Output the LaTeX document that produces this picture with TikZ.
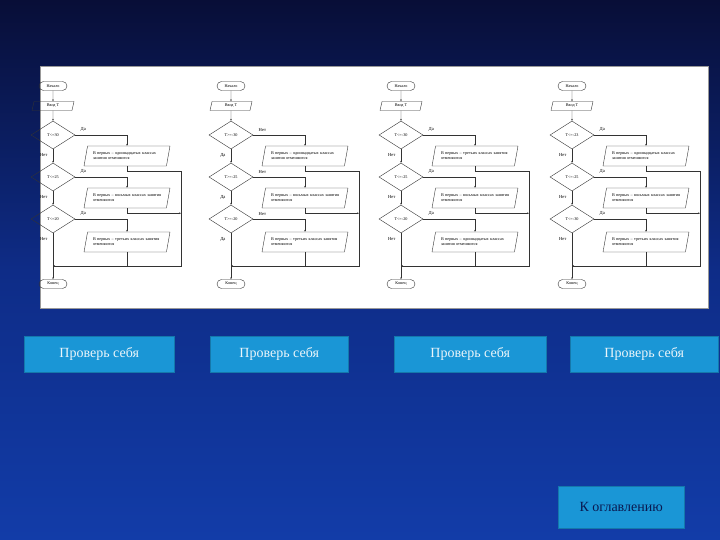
\documentclass[tikz,border=0pt]{standalone}
\usepackage{fontspec}
\setmainfont{Liberation Serif}
\usetikzlibrary{shapes.geometric,shapes.misc,arrows.meta}
\definecolor{btn}{RGB}{26,150,214}
\definecolor{btntxt}{RGB}{235,245,250}
\definecolor{navy}{RGB}{10,25,80}
\tikzset{
 tiny/.style={font=\fontsize{4.2}{5}\selectfont},
 term/.style={rounded rectangle,draw=black!80,line width=0.4pt,minimum width=30pt,minimum height=9pt,inner sep=1pt,tiny},
 io/.style={trapezium,trapezium left angle=70,trapezium right angle=110,draw=black!80,line width=0.4pt,minimum width=42pt,minimum height=9pt,inner sep=1pt,tiny,trapezium stretches body},
 box/.style={trapezium,trapezium left angle=70,trapezium right angle=110,draw=black!80,line width=0.4pt,text width=68pt,minimum width=86pt,minimum height=20pt,inner sep=1pt,tiny,align=left,trapezium stretches body},
 dec/.style={diamond,draw=black!80,line width=0.4pt,minimum width=44pt,minimum height=28pt,aspect=1.6,inner sep=0pt,tiny},
 ln/.style={draw=black!80,line width=0.4pt},
 ar/.style={ln,-{Stealth[length=2pt,width=1.6pt]}},
 lab/.style={font=\fontsize{4.6}{5}\selectfont},
 button/.style={fill=btn,draw=btn!80!black,line width=0.4pt,inner sep=0pt,font=\fontsize{14}{16}\selectfont,text=btntxt}
}
% #1 prefix #2 axis x #3-5 conditions #6-8 boxes; \SL side label, \DL down label
\newcommand\flowch[8]{%
 \node[term] (#1s) at (#2,86) {Начало};
 \node[io] (#1i) at (#2,106) {Ввод T};
 \node[dec] (#1d1) at (#2,135) {#3};
 \node[dec] (#1d2) at (#2,177) {#4};
 \node[dec] (#1d3) at (#2,219) {#5};
 \node[term] (#1e) at (#2,284) {Конец};
 \node[box] (#1b1) at (#2+74,156) {#6};
 \node[box] (#1b2) at (#2+74,198) {#7};
 \node[box] (#1b3) at (#2+74,242) {#8};
 \coordinate (#1m) at (#2,266);
 \coordinate (#1c) at (#2+128,266);
 \draw[ar] (#1s) -- (#1i);
 \draw[ar] (#1i) -- (#1d1);
 \draw[ar] (#1d1) -- (#1d2);
 \draw[ar] (#1d2) -- (#1d3);
 \draw[ar] (#1d3) -- (#1e);
 \draw[ar] (#1d1.east) -| (#1b1.north);
 \draw[ar] (#1d2.east) -| (#1b2.north);
 \draw[ar] (#1d3.east) -| (#1b3.north);
 \draw[ln] (#1b1.south) |- ++(54,5) |- (#1m);
 \draw[ar] (#1b2.south) |- ++(54,5);
 \draw[ln] (#1b3.south) |- (#1c);
 \draw[ar] (#1c) -- (#1m);
 \foreach \k in {1,2,3}{
  \node[lab,anchor=south west] at ([xshift=2pt]#1d\k.east) {\SL};
  \node[lab,anchor=north east] at ([xshift=-2pt,yshift=-1pt]#1d\k.south) {\DL};
 }
}
\begin{document}
\begin{tikzpicture}[x=1pt,y=-1pt]
\useasboundingbox (0,0) rectangle (720,540);
\shade[top color={rgb,255:red,8;green,14;blue,55},bottom color={rgb,255:red,18;green,60;blue,168},middle color={rgb,255:red,14;green,44;blue,135}] (0,0) rectangle (720,540);
\node[draw=black!40,fill=white,line width=0.5pt,minimum width=668pt,minimum height=242pt,inner sep=0pt,anchor=north west] (panel) at (40,66) {};
\def\SL{Да}\def\DL{Нет}
\flowch{a}{53}{T<=30}{T<=25}{T<=20}{В первых – одиннадцатых классах занятия отменяются}{В первых – восьмых классах занятия отменяются}{В первых – третьих классах занятия отменяются}
\def\SL{Нет}\def\DL{Да}
\flowch{b}{231}{T>=-30}{T>=-25}{T>=-20}{В первых – одиннадцатых классах занятия отменяются}{В первых – восьмых классах занятия отменяются}{В первых – третьих классах занятия отменяются}
\def\SL{Да}\def\DL{Нет}
\flowch{c}{401}{T<=-30}{T<=-25}{T<=-20}{В первых – третьих классах занятия отменяются}{В первых – восьмых классах занятия отменяются}{В первых – одиннадцатых классах занятия отменяются}
\flowch{d}{572}{T<=-23}{T<=-25}{T<=-30}{В первых – одиннадцатых классах занятия отменяются}{В первых – восьмых классах занятия отменяются}{В первых – третьих классах занятия отменяются}
\node[button,minimum width=150pt,minimum height=36pt,anchor=north west] (p1) at (24,336) {Проверь себя};
\node[button,minimum width=138pt,minimum height=36pt,anchor=north west] (p2) at (210,336) {Проверь себя};
\node[button,minimum width=152pt,minimum height=36pt,anchor=north west] (p3) at (394,336) {Проверь себя};
\node[button,minimum width=148pt,minimum height=36pt,anchor=north west] (p4) at (570,336) {Проверь себя};
\node[button,minimum width=126pt,minimum height=42pt,anchor=north west,text=navy] (toc) at (558,486) {К оглавлению};
\end{tikzpicture}
\end{document}
